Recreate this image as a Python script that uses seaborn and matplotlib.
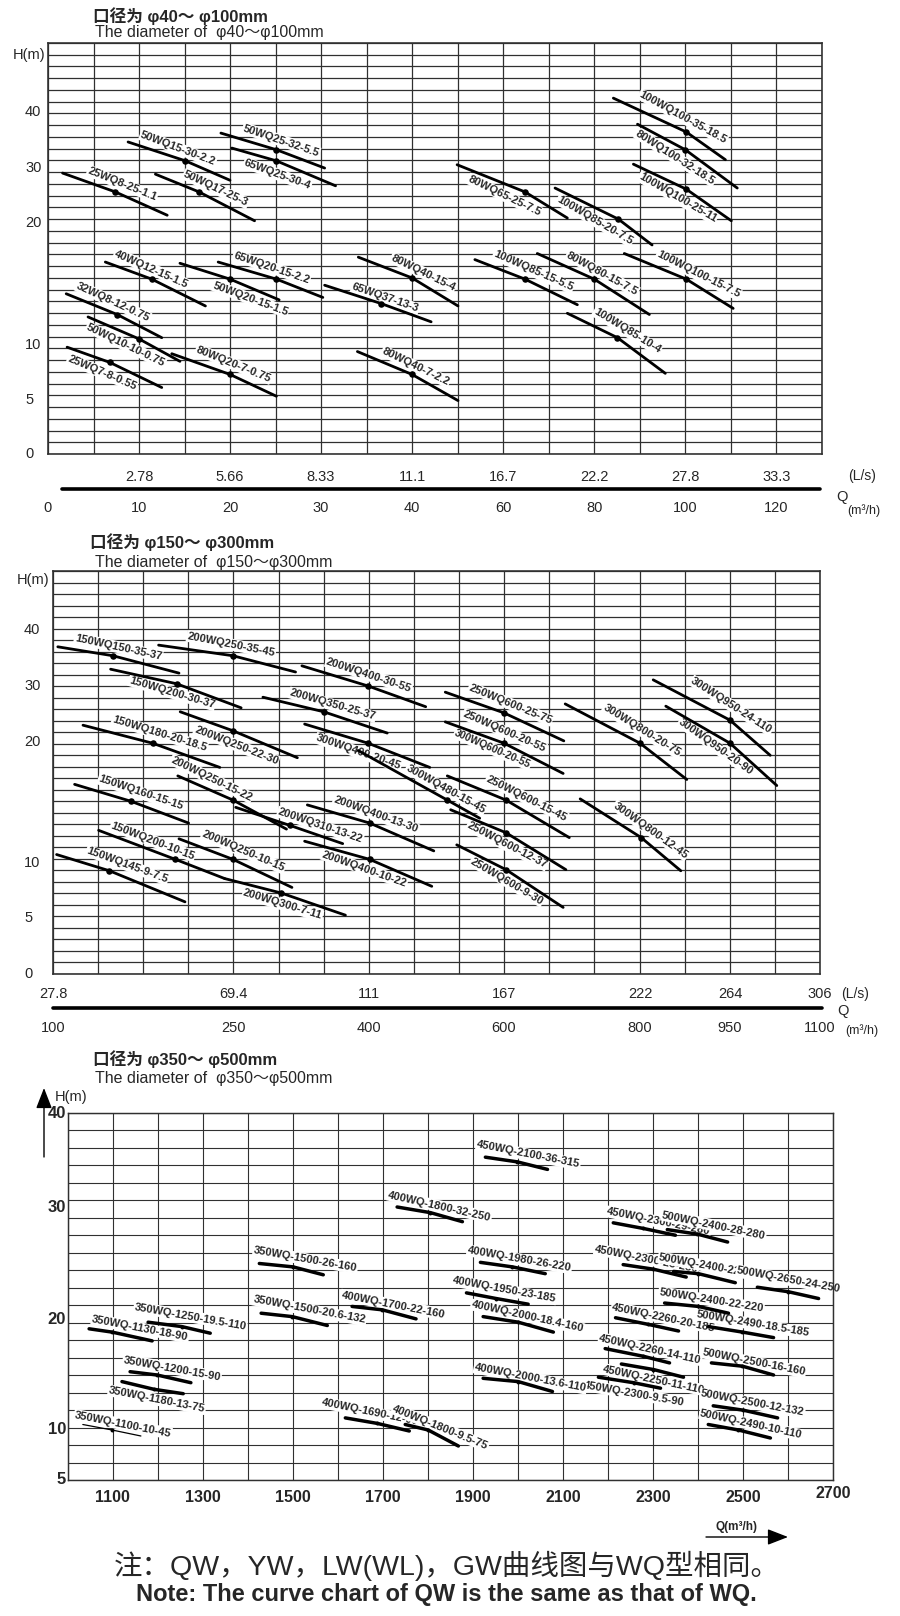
import numpy as np
import pandas as pd
import matplotlib
matplotlib.use("Agg")
import matplotlib.pyplot as plt
import seaborn as sns
from matplotlib import font_manager
from matplotlib.lines import Line2D

# ---------------- data: panel 1 (diameter 40-100 mm) ----------------
p1_names = ["25WQ8-25-1.1", "50WQ15-30-2.2", "50WQ17-25-3", "50WQ25-32-5.5", "65WQ25-30-4",
            "80WQ65-25-7.5", "100WQ85-20-7.5", "100WQ100-35-18.5", "80WQ100-32-18.5", "100WQ100-25-11",
            "40WQ12-15-1.5", "50WQ20-15-1.5", "65WQ20-15-2.2", "32WQ8-12-0.75", "50WQ10-10-0.75",
            "25WQ7-8-0.55", "80WQ20-7-0.75", "65WQ37-13-3", "80WQ40-15-4", "80WQ40-7-2.2",
            "100WQ85-15-5.5", "80WQ80-15-7.5", "100WQ100-15-7.5", "100WQ85-10-4"]
p1_q = [[1.6, 7.4, 13.1], [8.8, 15.1, 20.0], [11.8, 16.6, 22.7], [19.0, 25.1, 30.4], [20.2, 25.1, 31.6],
        [49.9, 64.8, 74.1], [71.4, 85.3, 92.7], [84.2, 100.2, 108.8], [89.5, 100.0, 111.4], [88.6, 100.2, 110.1],
        [6.3, 11.4, 17.3], [14.5, 20.0, 25.4], [18.7, 25.1, 30.2], [2.0, 7.6, 12.5], [4.4, 10.0, 14.5],
        [2.1, 6.8, 12.5], [13.6, 20.0, 25.1], [30.4, 36.6, 44.2], [34.1, 40.0, 50.1], [34.0, 40.0, 50.1],
        [53.8, 64.8, 76.3], [67.5, 80.0, 92.1], [86.6, 100.2, 110.5], [74.1, 85.1, 95.6]]
p1_h = [[29.0, 25.6, 21.4], [34.6, 31.2, 27.7], [28.8, 25.6, 20.4], [36.2, 33.2, 29.9], [33.5, 31.2, 26.7],
        [30.5, 25.6, 20.9], [26.3, 20.7, 18.2], [42.5, 36.4, 31.4], [37.8, 33.2, 26.3], [30.6, 26.1, 20.4],
        [16.8, 15.4, 13.2], [16.7, 15.4, 13.7], [16.8, 15.4, 13.9], [14.2, 12.5, 10.6], [12.3, 10.5, 8.5],
        [9.8, 8.4, 6.1], [9.2, 7.3, 5.3], [14.9, 13.4, 11.9], [17.2, 15.5, 13.2], [9.4, 7.3, 4.9],
        [17.0, 15.4, 13.3], [17.5, 15.4, 12.5], [17.5, 15.4, 13.0], [12.6, 10.6, 7.4]]
p1_ls_at = [10, 20, 30, 40, 60, 80, 100, 120]
p1_ls_text = ["2.78", "5.66", "8.33", "11.1", "16.7", "22.2", "27.8", "33.3"]
p1_m3h_at = [0, 10, 20, 30, 40, 60, 80, 100, 120]
p1_h_ticks = [0, 5, 10, 20, 30, 40]

# ---------------- data: panel 2 (diameter 150-300 mm) ----------------
p2_names = ["150WQ150-35-37", "200WQ250-35-45", "200WQ400-30-55", "150WQ200-30-37", "200WQ350-25-37",
            "200WQ250-22-30", "150WQ180-20-18.5", "300WQ400-20-45", "250WQ600-25-75", "250WQ600-20-55",
            "300WQ800-20-75", "300WQ950-24-110", "300WQ950-20-90", "150WQ160-15-15", "200WQ250-15-22",
            "200WQ310-13-22", "200WQ400-13-30", "200WQ400-10-22", "150WQ200-10-15", "200WQ300-7-11",
            "200WQ250-10-15", "150WQ145-9-7.5", "300WQ480-15-45", "250WQ600-15-45", "250WQ600-12-37",
            "250WQ600-9-30", "300WQ800-12-45"]
p2_q = [[104, 150, 205], [188, 250, 319], [326, 399, 484], [148, 203, 259], [283, 350, 427],
        [206, 250, 321], [125, 183, 239], [329, 399, 490], [513, 600, 688], [513, 600, 687],
        [690, 800, 878], [822, 950, 1017], [843, 950, 1028], [118, 165, 213], [204, 250, 309],
        [253, 313, 371], [332, 401, 496], [329, 401, 493], [138, 202, 243], [243, 303, 374],
        [205, 250, 315], [103, 147, 210], [388, 516, 564], [516, 603, 696], [521, 603, 691],
        [530, 603, 687], [712, 802, 868]]
p2_h = [[37.0, 35.4, 32.3], [37.3, 35.4, 32.5], [33.6, 30.0, 26.3], [33.0, 30.4, 26.1], [28.0, 25.4, 21.6],
        [25.4, 22.0, 18.7], [23.0, 19.9, 17.9], [23.2, 19.9, 17.9], [28.9, 25.2, 20.2], [23.6, 19.9, 17.4],
        [26.8, 19.9, 16.9], [31.1, 23.9, 18.9], [26.4, 19.9, 16.4], [16.5, 15.1, 13.3], [17.2, 15.2, 12.8],
        [14.6, 13.1, 11.6], [14.8, 13.3, 11.0], [11.8, 10.3, 7.9], [12.7, 10.3, 8.6], [8.6, 7.3, 5.3],
        [12.0, 10.3, 7.8], [10.7, 9.3, 6.5], [19.3, 15.2, 13.7], [17.2, 15.2, 12.1], [14.4, 12.5, 9.4],
        [11.5, 9.4, 6.0], [15.3, 12.1, 9.3]]
p2_extra_name = "300WQ600-20-55"      # second label on the 250WQ600-20-55 curve
p2_extra_of = "250WQ600-20-55"
p2_ls_at = [100, 250, 400, 600, 800, 950, 1100]
p2_ls_text = ["27.8", "69.4", "111", "167", "222", "264", "306"]
p2_m3h_at = [100, 250, 400, 600, 800, 950, 1100]
p2_h_ticks = [0, 5, 10, 20, 30, 40]

# ---------------- data: panel 3 (diameter 350-500 mm) ----------------
p3_names = ["450WQ-2100-36-315", "400WQ-1800-32-250", "450WQ-2300-29-280", "500WQ-2400-28-280",
            "400WQ-1980-26-220", "450WQ-2300-25-250", "500WQ-2400-22-280", "500WQ-2650-24-250",
            "400WQ-1950-23-185", "500WQ-2400-22-220", "400WQ-2000-18.4-160", "450WQ-2260-20-185",
            "500WQ-2490-18.5-185", "450WQ-2260-14-110", "450WQ-2250-11-110", "450WQ-2300-9.5-90",
            "500WQ-2500-16-160", "500WQ-2500-12-132", "500WQ-2490-10-110", "400WQ-2000-13.6-110",
            "350WQ-1500-26-160", "350WQ-1500-20.6-132", "400WQ-1700-22-160", "350WQ-1250-19.5-110",
            "350WQ-1130-18-90", "350WQ-1200-15-90", "350WQ-1180-13-75", "350WQ-1100-10-45",
            "400WQ-1690-12-90", "400WQ-1800-9.5-75"]
p3_q = [[1928, 1999, 2066], [1732, 1806, 1877], [2212, 2279, 2350], [2332, 2399, 2466],
        [1917, 1988, 2061], [2234, 2301, 2374], [2346, 2401, 2483], [2532, 2601, 2668],
        [1886, 1952, 2023], [2326, 2401, 2468], [1923, 2001, 2079], [2217, 2290, 2357],
        [2423, 2499, 2568], [2194, 2279, 2337], [2230, 2301, 2368], [2179, 2257, 2317],
        [2430, 2499, 2568], [2434, 2501, 2577], [2423, 2490, 2561], [1923, 2001, 2077],
        [1426, 1501, 1568], [1430, 1499, 1577], [1632, 1699, 1774], [1179, 1254, 1317],
        [1048, 1099, 1188], [1139, 1199, 1274], [1121, 1192, 1257], [1034, 1099, 1163],
        [1617, 1688, 1759], [1750, 1801, 1868]]
p3_h = [[35.3, 34.8, 34.0], [30.0, 29.5, 28.7], [28.6, 28.1, 27.5], [28.0, 27.6, 26.9],
        [25.1, 24.7, 24.1], [24.9, 24.5, 23.8], [24.3, 24.1, 23.3], [22.9, 22.5, 21.9],
        [22.4, 21.9, 21.4], [21.5, 21.2, 20.6], [20.3, 19.8, 18.9], [20.2, 19.6, 19.0],
        [19.4, 18.9, 18.4], [17.4, 16.7, 16.1], [16.0, 15.5, 14.8], [14.8, 14.3, 13.8],
        [16.1, 15.8, 15.0], [12.2, 11.8, 11.1], [10.5, 10.0, 9.2], [14.7, 14.4, 13.5],
        [25.0, 24.7, 24.0], [20.6, 20.3, 19.5], [21.2, 20.9, 20.1], [19.8, 19.4, 18.8],
        [19.2, 18.9, 18.1], [15.3, 15.0, 14.3], [14.4, 13.7, 13.3], [10.5, 10.0, 9.4],
        [11.1, 10.6, 9.9], [10.5, 10.0, 8.4]]
p3_q_ticks = [1100, 1300, 1500, 1700, 1900, 2100, 2300, 2500, 2700]
p3_h_ticks = [5, 10, 20, 30, 40]

# ---------------- label placement (fraction along curve, vertical px offset) ----------------
p1_lab = [(0.57, 11), (0.49, 10), (0.61, 12), (0.58, 11), (0.44, -13), (0.43, -12), (0.41, -13),
          (0.62, 13), (0.38, -13), (0.45, -13), (0.46, 10), (0.71, -11), (0.51, 10), (0.49, 11),
          (0.41, -12), (0.37, -13), (0.59, 12), (0.57, 7), (0.65, 12), (0.58, 10), (0.57, 12),
          (0.58, 11), (0.68, 12), (0.61, 14)]
p2_lab = [(0.5, 10), (0.53, 11), (0.54, 11), (0.47, -10), (0.56, 10), (0.48, -13), (0.56, 12),
          (0.43, -12), (0.55, 12), (0.5, 12), (0.63, 14), (0.67, 16), (0.45, -12), (0.58, 12),
          (0.31, 12), (0.79, 10), (0.54, 11), (0.47, -11), (0.43, 10), (0.48, -11), (0.57, 13),
          (0.55, 13), (0.72, 10), (0.65, 14), (0.49, -12), (0.47, -11), (0.7, 15)]
p2_extra_lab = (0.4, -10)
p3_lab = [(0.69, 10), (0.65, 9), (0.73, 10), (0.77, 13), (0.6, 9), (0.37, 9), (0.6, 10), (0.51, 12),
          (0.61, 10), (0.73, 9), (0.63, 8), (0.76, 10), (0.68, 10), (0.7, 9), (0.52, -10), (0.58, -11),
          (0.68, 7), (0.61, 9), (0.69, 9), (0.68, 7), (0.72, 11), (0.73, 11), (0.64, 8), (0.68, 12),
          (0.81, 10), (0.69, 10), (0.57, -10), (0.69, 8), (0.39, 10), (0.66, 9)]
p3_thin = ["350WQ-1100-10-45"]

# ---------------- style ----------------
sns.set_style("white")
avail = {f.name for f in font_manager.fontManager.ttflist}
LAT = "Liberation Sans" if "Liberation Sans" in avail else "DejaVu Sans"
NARROW = "Liberation Sans Narrow" if "Liberation Sans Narrow" in avail else LAT
CJK = "Noto Sans CJK SC"
plt.rcParams["font.family"] = [LAT, CJK, "DejaVu Sans"]
plt.rcParams["axes.unicode_minus"] = False

W, HP = 900, 1616
fig = plt.figure(figsize=(W / 100, HP / 100), dpi=100)
fig.patch.set_facecolor("white")
GRID_C = "#303030"


def pwl(xk, yk):
    xk = np.asarray(xk, float)
    yk = np.asarray(yk, float)
    s0 = (yk[1] - yk[0]) / (xk[1] - xk[0])
    s1 = (yk[-1] - yk[-2]) / (xk[-1] - xk[-2])

    def f(x):
        x = np.asarray(x, float)
        y = np.interp(x, xk, yk)
        y = np.where(x < xk[0], yk[0] + (x - xk[0]) * s0, y)
        y = np.where(x > xk[-1], yk[-1] + (x - xk[-1]) * s1, y)
        return y
    return f


def ftext(x, y, s, **kw):
    return fig.text(x / W, 1 - y / HP, s, **kw)


def make_panel(box, qk, qpk, hk, hpk, ncol, nrow, names, qs, hs, lw, dot_s, grid_lw, thin=()):
    left, top, right, bottom = box
    wpx, hpx = right - left, bottom - top
    ax = fig.add_axes([left / W, 1 - bottom / HP, wpx / W, hpx / HP])
    rows = []
    for n, q, h in zip(names, qs, hs):
        for qq, hh in zip(q, h):
            rows.append((n, qq, hh))
    df = pd.DataFrame(rows, columns=["name", "Q", "H"])
    thick = df[~df["name"].isin(thin)]
    sns.lineplot(data=thick, x="Q", y="H", units="name", estimator=None, sort=False,
                 color="black", linewidth=lw, ax=ax, zorder=3, legend=False)
    if len(thin):
        sns.lineplot(data=df[df["name"].isin(thin)], x="Q", y="H", units="name", estimator=None,
                     sort=False, color="black", linewidth=0.9, ax=ax, zorder=3, legend=False)
    mids = pd.DataFrame({"Q": [q[1] for q in qs], "H": [h[1] for h in hs]})
    sns.scatterplot(data=mids, x="Q", y="H", color="black", s=dot_s, linewidth=0, ax=ax,
                    zorder=4, legend=False)
    fx, ix = pwl(qk, qpk), pwl(qpk, qk)
    fy, iy = pwl(hk, hpk), pwl(hpk, hk)
    ax.set_xscale("function", functions=(fx, ix))
    ax.set_yscale("function", functions=(fy, iy))
    ax.set_xlim(float(ix(0)), float(ix(wpx)))
    ax.set_ylim(float(iy(0)), float(iy(hpx)))
    ax.set_xticks(ix(np.linspace(0, wpx, ncol + 1)))
    ax.set_yticks(iy(np.linspace(0, hpx, nrow + 1)))
    ax.tick_params(length=0, labelbottom=False, labelleft=False)
    ax.grid(True, color=GRID_C, lw=grid_lw)
    ax.set_axisbelow(True)
    for s in ax.spines.values():
        s.set_color(GRID_C)
        s.set_linewidth(grid_lw * 1.3)
    ax.set_xlabel("")
    ax.set_ylabel("")
    return ax, wpx, hpx


def curve_label(ax, name, q, h, t, d, fs, weight, family):
    pts = ax.transData.transform(np.column_stack([q, h]))
    ang = np.degrees(np.arctan2(pts[-1, 1] - pts[0, 1], pts[-1, 0] - pts[0, 0]))
    xl = pts[0, 0] + t * (pts[-1, 0] - pts[0, 0])
    yl = np.interp(xl, pts[:, 0], pts[:, 1]) + d
    qd, hd = ax.transData.inverted().transform((xl, yl))
    ax.text(qd, hd, name, rotation=ang, rotation_mode="anchor", ha="center", va="center",
            fontsize=fs, fontweight=weight, family=family, zorder=2.5,
            bbox=dict(boxstyle="square,pad=0.08", fc="white", ec="none"))


TITLE1 = dict(ha="left", va="center", fontsize=12, fontweight="bold", family=[LAT, CJK])
TITLE2 = dict(ha="left", va="center", fontsize=11.5, family=[LAT, CJK])

# ================= panel 1 =================
ax1, w1, h1 = make_panel((48, 43, 822, 454), [0, 40, 130], [0, 364, 774], [0, 10, 20, 40],
                         [0, 109, 231, 342], 17, 35, p1_names, p1_q, p1_h, 2.0, 22, 0.9)
for n, q, h, (t, d) in zip(p1_names, p1_q, p1_h, p1_lab):
    curve_label(ax1, n, q, h, t, d, 8, "bold", [LAT])
ftext(93, 16, "口径为 φ40～ φ100mm", **TITLE1)
ftext(95, 33, "The diameter of  φ40～φ100mm", **TITLE2)
ftext(13, 55, "H(m)", ha="left", va="center", fontsize=10.5)
for v in p1_h_ticks:
    ax1.text((25 - 48) / w1, v, str(v), transform=ax1.get_yaxis_transform(), ha="left", va="center",
             fontsize=10.5)
for v, s in zip(p1_ls_at, p1_ls_text):
    ax1.text(v, (454 - 477) / h1, s, transform=ax1.get_xaxis_transform(), ha="center", va="center",
             fontsize=10.5)
for v in p1_m3h_at:
    ax1.text(v, (454 - 508) / h1, str(v), transform=ax1.get_xaxis_transform(), ha="center", va="center",
             fontsize=10.5)
ax1.add_line(Line2D([(62 - 48) / w1, (820 - 48) / w1], [(454 - 489) / h1] * 2, transform=ax1.transAxes,
                    color="black", lw=2.6, clip_on=False))
ftext(842, 497, "Q", ha="center", va="center", fontsize=10.5)
ftext(862, 476, "(L/s)", ha="center", va="center", fontsize=10)
ftext(864, 511, "(m³/h)", ha="center", va="center", fontsize=9)

# ================= panel 2 =================
ax2, w2, h2 = make_panel((53, 571, 820, 974), [100, 250, 400, 600, 800, 950, 1100],
                         [0, 180, 316, 451, 587, 677, 767], [0, 10, 20, 40], [0, 111, 232, 344],
                         17, 35, p2_names, p2_q, p2_h, 2.0, 22, 0.9)
for n, q, h, (t, d) in zip(p2_names, p2_q, p2_h, p2_lab):
    curve_label(ax2, n, q, h, t, d, 8, "bold", [LAT])
k = p2_names.index(p2_extra_of)
curve_label(ax2, p2_extra_name, p2_q[k], p2_h[k], p2_extra_lab[0], p2_extra_lab[1], 7.5, "bold", [LAT])
ftext(90, 542, "口径为 φ150～ φ300mm", **TITLE1)
ftext(95, 562, "The diameter of  φ150～φ300mm", **TITLE2)
ftext(17, 580, "H(m)", ha="left", va="center", fontsize=10.5)
for v in p2_h_ticks:
    ax2.text((24 - 53) / w2, v, str(v), transform=ax2.get_yaxis_transform(), ha="left", va="center",
             fontsize=10.5)
for v, s in zip(p2_ls_at, p2_ls_text):
    ax2.text(v, (974 - 994) / h2, s, transform=ax2.get_xaxis_transform(), ha="center", va="center",
             fontsize=10.5)
for v in p2_m3h_at:
    ax2.text(v, (974 - 1028) / h2, str(v), transform=ax2.get_xaxis_transform(), ha="center", va="center",
             fontsize=10.5)
ax2.add_line(Line2D([0, (822 - 53) / w2], [(974 - 1008) / h2] * 2, transform=ax2.transAxes,
                    color="black", lw=2.6, clip_on=False))
ftext(855, 994, "(L/s)", ha="center", va="center", fontsize=10)
ftext(843, 1011, "Q", ha="center", va="center", fontsize=10.5)
ftext(862, 1031, "(m³/h)", ha="center", va="center", fontsize=9)

# ================= panel 3 =================
ax3, w3, h3 = make_panel((67.5, 1113, 833, 1480), [1000, 2700], [0, 765.5], [5, 10, 20, 30, 40],
                         [0, 50, 160, 273, 367], 17, 21, p3_names, p3_q, p3_h, 2.5, 8, 0.8,
                         thin=p3_thin)
for n, q, h, (t, d) in zip(p3_names, p3_q, p3_h, p3_lab):
    curve_label(ax3, n, q, h, t, d, 8, "bold", [NARROW])
ftext(93, 1059, "口径为 φ350～ φ500mm", **TITLE1)
ftext(95, 1079, "The diameter of  φ350～φ500mm", **TITLE2)
ftext(55, 1097, "H(m)", ha="left", va="center", fontsize=10.5)
ax3.annotate("", xy=(44 / W, 1 - 1088 / HP), xytext=(44 / W, 1 - 1157 / HP), xycoords="figure fraction",
             textcoords="figure fraction",
             arrowprops=dict(arrowstyle="-|>,head_length=0.9,head_width=0.35", color="black", lw=1.0,
                             shrinkA=0, shrinkB=0, mutation_scale=14))
for v in p3_h_ticks:
    ax3.text((66 - 67.5) / w3, v, str(v), transform=ax3.get_yaxis_transform(), ha="right", va="center",
             fontsize=12, fontweight="bold")
for v in p3_q_ticks:
    yy = 1493 if v == p3_q_ticks[-1] else 1497
    ax3.text(v, (1480 - yy) / h3, str(v), transform=ax3.get_xaxis_transform(), ha="center", va="center",
             fontsize=11.5, fontweight="bold", family=[NARROW])
ftext(737, 1527, "Q(m³/h)", ha="center", va="center", fontsize=8.5, fontweight="bold", family=[NARROW])
ax3.annotate("", xy=(788 / W, 1 - 1537 / HP), xytext=(706 / W, 1 - 1537 / HP), xycoords="figure fraction",
             textcoords="figure fraction",
             arrowprops=dict(arrowstyle="-|>,head_length=0.9,head_width=0.35", color="black", lw=1.0,
                             shrinkA=0, shrinkB=0, mutation_scale=14))

# ================= footer =================
ftext(447, 1566, "注：QW，YW，LW(WL)，GW曲线图与WQ型相同。", ha="center", va="center", fontsize=20.5,
      family=[LAT, CJK])
ftext(446, 1594, "Note: The curve chart of QW is the same as that of WQ.", ha="center", va="center",
      fontsize=17, fontweight="bold", family=[NARROW])

fig.savefig("out.png", dpi=100, facecolor="white")
